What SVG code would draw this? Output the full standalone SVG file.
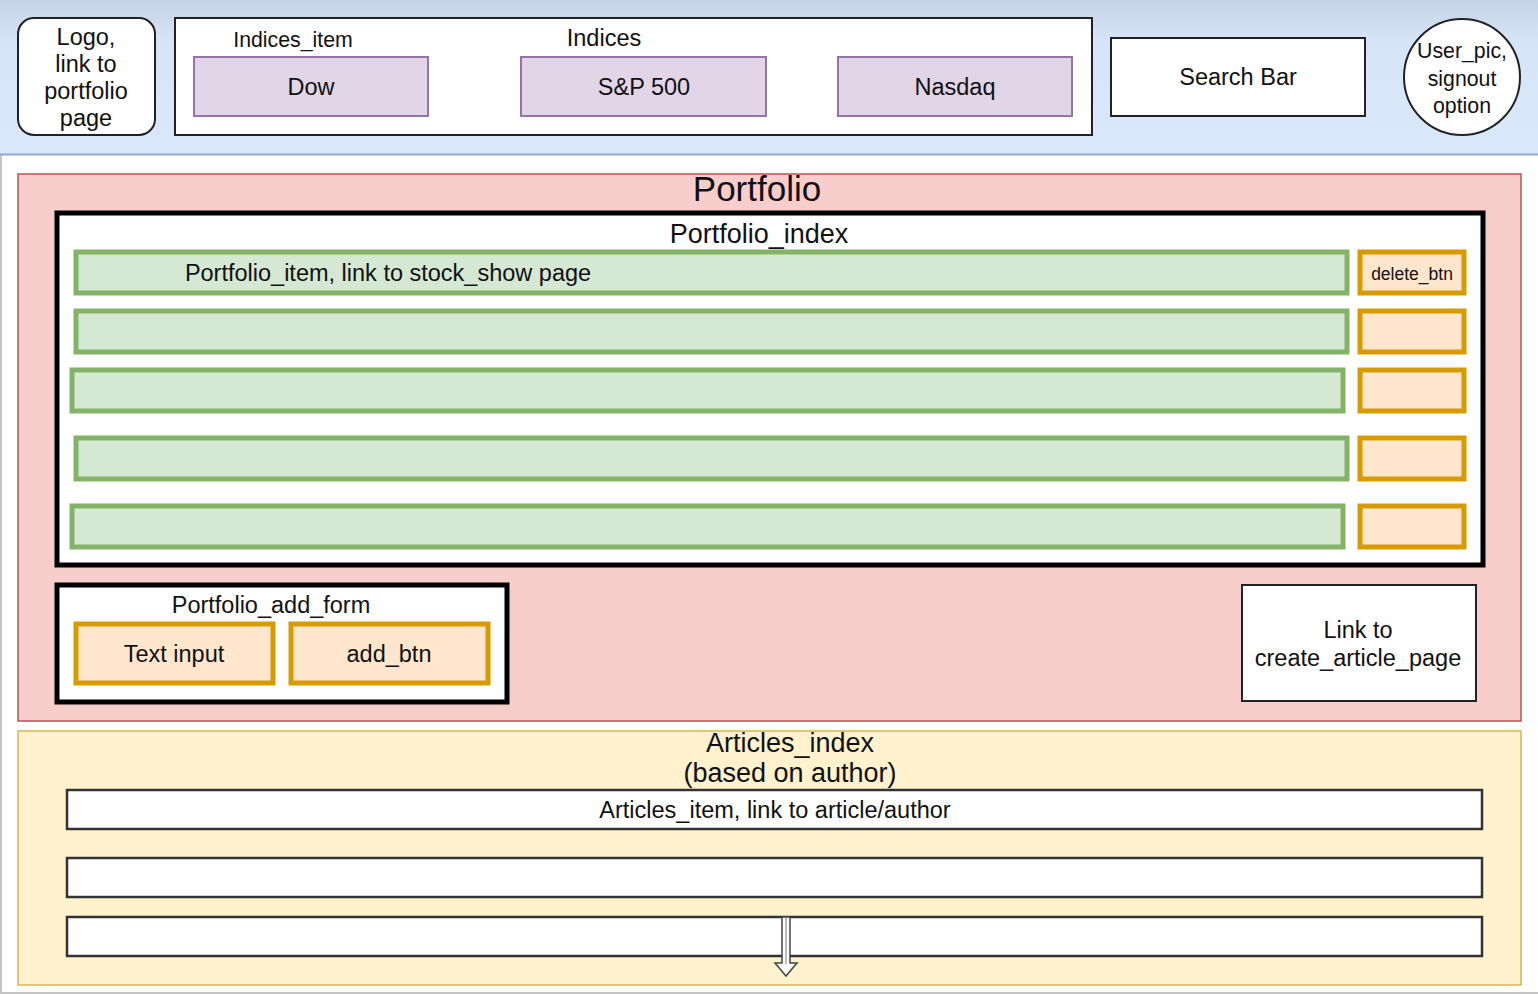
<svg xmlns="http://www.w3.org/2000/svg" width="1538" height="994" viewBox="0 0 1538 994">
<defs>
<linearGradient id="hdr" x1="0" y1="0" x2="0" y2="1">
<stop offset="0" stop-color="#c4d2e6"/>
<stop offset="0.25" stop-color="#d6e4f8"/>
<stop offset="1" stop-color="#dae8fc"/>
</linearGradient>
<style>
text{font-family:"Liberation Sans",Arial,sans-serif;fill:#111;text-anchor:middle;dominant-baseline:central}
.idx{fill:#e1d5e7;stroke:#9673a6;stroke-width:2}
.grn{fill:#d5e8d4;stroke:#82b366;stroke-width:5}
.org{fill:#ffe6cc;stroke:#d79b00;stroke-width:5}
.blk{fill:#fff;stroke:#000;stroke-width:5}
.thin{fill:#fff;stroke:#222;stroke-width:2}
.row{fill:#fff;stroke:#333;stroke-width:2.5}
.t22{font-size:23.5px}
.t20{font-size:21.3px}
.t25{font-size:27px}
</style>
</defs>
<rect x="0" y="0" width="1538" height="994" fill="#fff"/>
<line x1="1" y1="155" x2="1" y2="994" stroke="#c4c4c4" stroke-width="2"/>
<line x1="0" y1="993" x2="1538" y2="993" stroke="#c4c4c4" stroke-width="2"/>
<g id="header">
<rect x="0" y="0" width="1538" height="155" fill="url(#hdr)"/>
<line x1="0" y1="154.5" x2="1538" y2="154.5" stroke="#8fa9d0" stroke-width="2"/>
</g>
<g id="logo">
<rect x="18" y="18" width="137" height="117" rx="16" class="thin"/>
<text class="t22" x="86" y="37">Logo,</text>
<text class="t22" x="86" y="64">link to</text>
<text class="t22" x="86" y="91">portfolio</text>
<text class="t22" x="86" y="118">page</text>
</g>
<g id="indices">
<rect x="175" y="18" width="917" height="117" class="thin"/>
<text class="t20" x="293" y="40">Indices_item</text>
<text class="t22" x="604" y="38">Indices</text>
</g>
<g id="dow"><rect x="194" y="57" width="234" height="59" class="idx"/><text class="t22" x="311" y="87">Dow</text></g>
<g id="sp500"><rect x="521" y="57" width="245" height="59" class="idx"/><text class="t22" x="644" y="87">S&amp;P 500</text></g>
<g id="nasdaq"><rect x="838" y="57" width="234" height="59" class="idx"/><text class="t22" x="955" y="87">Nasdaq</text></g>
<g id="search"><rect x="1111" y="38" width="254" height="78" class="thin"/><text class="t22" x="1238" y="77">Search Bar</text></g>
<g id="user">
<circle cx="1462" cy="77" r="58" class="thin"/>
<text class="t20" x="1462" y="51">User_pic,</text>
<text class="t20" x="1462" y="79">signout</text>
<text class="t20" x="1462" y="106">option</text>
</g>
<g id="portfolio">
<rect x="18" y="174" width="1503" height="547" fill="#f8cecc" stroke="#b85450" stroke-width="1.5"/>
<text x="757" y="188" style="font-size:35px">Portfolio</text>
</g>
<g id="portfolio_index">
<rect x="57" y="213" width="1426" height="352" class="blk"/>
<text class="t25" x="759" y="234">Portfolio_index</text>
</g>
<g id="item1"><rect x="76" y="252" width="1271" height="41" class="grn"/><text class="t22" x="388" y="273">Portfolio_item, link to stock_show page</text></g>
<g id="item2"><rect x="76" y="311" width="1271" height="41" class="grn"/></g>
<g id="item3"><rect x="72" y="370" width="1271" height="41" class="grn"/></g>
<g id="item4"><rect x="76" y="438" width="1271" height="41" class="grn"/></g>
<g id="item5"><rect x="72" y="506" width="1271" height="41" class="grn"/></g>
<g id="del1"><rect x="1360" y="252" width="104" height="41" class="org"/><text x="1412" y="274" style="font-size:17.5px">delete_btn</text></g>
<g id="del2"><rect x="1360" y="311" width="104" height="41" class="org"/></g>
<g id="del3"><rect x="1360" y="370" width="104" height="41" class="org"/></g>
<g id="del4"><rect x="1360" y="438" width="104" height="41" class="org"/></g>
<g id="del5"><rect x="1360" y="506" width="104" height="41" class="org"/></g>
<g id="add_form">
<rect x="57" y="585" width="450" height="117" class="blk"/>
<text class="t22" x="271" y="605">Portfolio_add_form</text>
</g>
<g id="text_input"><rect x="76" y="624" width="197" height="59" class="org"/><text class="t22" x="174" y="654">Text input</text></g>
<g id="add_btn"><rect x="291" y="624" width="197" height="59" class="org"/><text class="t22" x="389" y="654">add_btn</text></g>
<g id="create_link">
<rect x="1242" y="585" width="234" height="116" class="thin"/>
<text class="t22" x="1358" y="630">Link to</text>
<text class="t22" x="1358" y="658">create_article_page</text>
</g>
<g id="articles_index">
<rect x="18" y="731" width="1503" height="254" fill="#fff2cc" stroke="#d6b656" stroke-width="1.5"/>
<text class="t25" x="790" y="743">Articles_index</text>
<text class="t25" x="790" y="773">(based on author)</text>
</g>
<g id="article1"><rect x="67" y="790" width="1415" height="39" class="row"/><text class="t22" x="775" y="810">Articles_item, link to article/author</text></g>
<g id="article2"><rect x="67" y="858" width="1415" height="39" class="row"/></g>
<g id="article3"><rect x="67" y="917" width="1415" height="39" class="row"/></g>
<g id="connectors">
<polygon points="782,917 790,917 790,963 797,963 786,976 775,963 782,963" fill="#fff" stroke="#444" stroke-width="1.5"/>
<line x1="786" y1="918" x2="786" y2="964" stroke="#bbb" stroke-width="2"/>
</g>
</svg>
